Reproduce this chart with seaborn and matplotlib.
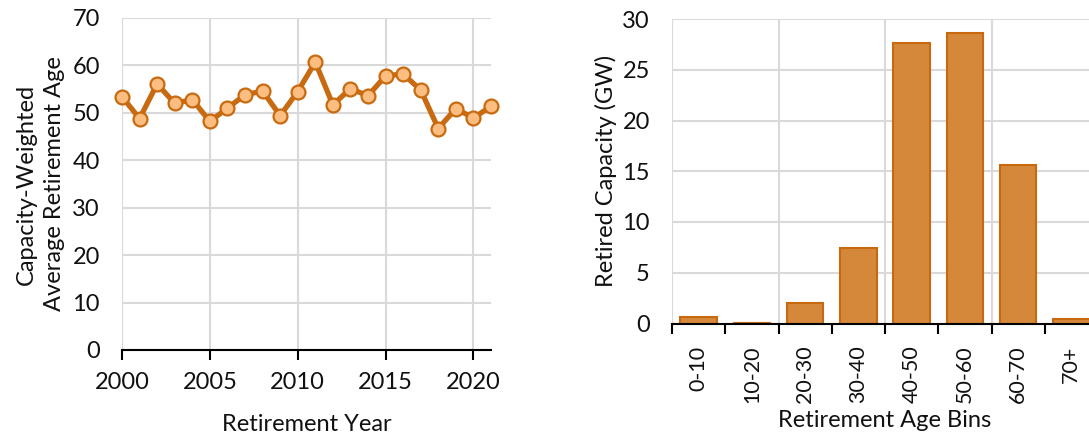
import matplotlib
matplotlib.use("Agg")
import matplotlib.pyplot as plt
import seaborn as sns
import pandas as pd
from matplotlib.ticker import MultipleLocator, FixedLocator

# Capacity-weighted average retirement age by year
years = list(range(2000, 2022))
avg_age = [53.4, 48.8, 56.1, 52.0, 52.8, 48.2, 51.0, 53.8, 54.6, 49.4, 54.5,
           60.7, 51.7, 55.1, 53.6, 57.8, 58.2, 54.8, 46.7, 50.9, 48.9, 51.4]

# Retired capacity by age bin
age_bins = ["0-10", "10-20", "20-30", "30-40", "40-50", "50-60", "60-70", "70+"]
retired_gw = [0.6, 0.05, 2.0, 7.47, 27.6, 28.6, 15.66, 0.4]

sns.set_theme(style="white")
plt.rcParams["font.family"] = ["Lato", "DejaVu Sans"]
plt.rcParams["font.size"] = 17

LINE = "#C86A10"
MARK_FILL = "#FBBD80"
BAR_FILL = "#D5883A"
BAR_EDGE = "#C8690F"
GRID = "#D9D9D9"
TXT = "#111111"

fig = plt.figure(figsize=(10.89, 4.34), dpi=100)
W, H = 1089, 434
ax1 = fig.add_axes([122 / W, 1 - 350 / H, (491 - 122) / W, (350 - 18) / H])
ax2 = fig.add_axes([672 / W, 1 - 323.5 / H, (1098 - 672) / W, (323.5 - 19) / H])

# ---- left: line chart ----
df1 = pd.DataFrame({"year": years, "age": avg_age})
sns.lineplot(data=df1, x="year", y="age", ax=ax1, color=LINE, linewidth=3.8,
             marker="o", markersize=10, markerfacecolor=MARK_FILL,
             markeredgecolor=LINE, markeredgewidth=1.6, clip_on=False, zorder=3)
ax1.set_xlim(2000, 2021)
ax1.set_ylim(0, 70)
ax1.xaxis.set_major_locator(MultipleLocator(5))
ax1.yaxis.set_major_locator(MultipleLocator(10))
ax1.grid(True, color=GRID, linewidth=1.5)
for s in ["top", "right", "left"]:
    ax1.spines[s].set_visible(False)
ax1.spines["bottom"].set_color("black")
ax1.spines["bottom"].set_linewidth(1.5)
ax1.spines["bottom"].set_zorder(4)
ax1.tick_params(axis="x", bottom=True, direction="out", length=7, width=1.5,
                color="black", labelsize=17, labelcolor=TXT, pad=9)
ax1.tick_params(axis="y", left=False, labelsize=17, labelcolor=TXT, pad=10)
ax1.set_xlabel("Retirement Year", fontsize=17, color=TXT, labelpad=15)
ax1.set_ylabel("Capacity-Weighted\nAverage Retirement Age", fontsize=17,
               color=TXT, labelpad=5, linespacing=1.45)

# ---- right: bar chart ----
df2 = pd.DataFrame({"bin": age_bins, "gw": retired_gw})
sns.barplot(data=df2, x="bin", y="gw", ax=ax2, color=BAR_FILL, saturation=1,
            width=0.69, edgecolor=BAR_EDGE, linewidth=1.5, zorder=3)
ax2.set_xlim(-0.5, 7.5)
ax2.set_ylim(0, 30)
ax2.yaxis.set_major_locator(MultipleLocator(5))
ax2.grid(True, axis="y", color=GRID, linewidth=1.5, zorder=0)
for xb in [-0.5, 1.5, 3.5, 5.5]:
    ax2.axvline(xb, color=GRID, linewidth=1.5, zorder=0)
for s in ["top", "right", "left"]:
    ax2.spines[s].set_visible(False)
ax2.spines["bottom"].set_color("black")
ax2.spines["bottom"].set_linewidth(1.5)
ax2.spines["bottom"].set_zorder(4)
ax2.xaxis.set_minor_locator(FixedLocator([i - 0.5 for i in range(9)]))
ax2.tick_params(axis="x", which="minor", bottom=True, direction="out",
                length=7, width=1.5, color="black")
ax2.tick_params(axis="x", which="major", bottom=False, labelsize=15.5,
                labelcolor=TXT, labelrotation=90, pad=10)
ax2.tick_params(axis="y", left=False, labelsize=17, labelcolor=TXT, pad=10)
ax2.set_xlabel("Retirement Age Bins", fontsize=17, color=TXT)
ax2.xaxis.set_label_coords(0.5, -0.285)
ax2.set_ylabel("Retired Capacity (GW)", fontsize=17, color=TXT, labelpad=4)

fig.savefig("out.png", dpi=100)
